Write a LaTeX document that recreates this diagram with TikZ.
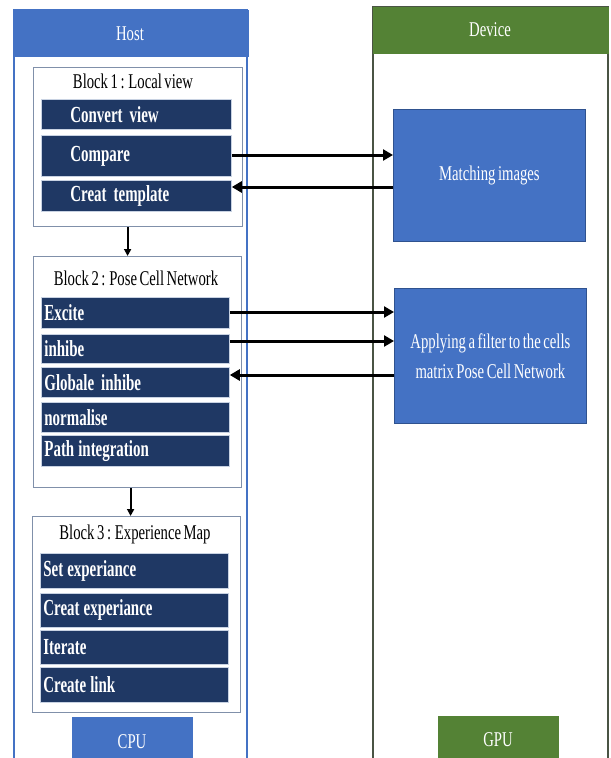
\documentclass[tikz,border=0pt]{standalone}
\usepackage{fontspec}
\usetikzlibrary{arrows.meta,calc}
\newfontfamily\nfont{Liberation Serif}[FakeStretch=0.7,WordSpace=0.7]
\newfontfamily\bfontfam{Liberation Serif}[FakeStretch=0.65]
\definecolor{hostblue}{HTML}{4472C4}
\definecolor{navy}{HTML}{1F3864}
\definecolor{devgreen}{HTML}{548235}
\definecolor{blkline}{HTML}{8090AA}
\definecolor{devline}{HTML}{4A5444}
\definecolor{barline}{HTML}{C8D2E2}
\definecolor{boxline}{HTML}{2F528F}
\newcommand{\dsp}{\hspace{7bp}}
\newcommand{\bsp}{\hspace{4bp}}
\tikzset{
  x=1bp, y=-1bp,
  ntext/.style={font=\nfont\fontsize{21bp}{30bp}\selectfont, inner sep=0pt},
  wtext/.style={ntext, text=white},
  bar/.style={fill=navy, draw=barline, line width=0.8bp, anchor=north west,
    inner xsep=3bp, inner ysep=0pt, text=white, align=left,
    font=\bfontfam\bfseries\fontsize{23bp}{28bp}\selectfont},
  blockbox/.style={draw=blkline, line width=1.2bp, fill=white, anchor=north west, inner sep=0pt},
  devbox/.style={fill=hostblue, draw=boxline, line width=0.8bp, anchor=north west, inner sep=0pt},
  harr/.style={line width=3bp, -{Triangle[length=10bp,width=11bp]}},
  varr/.style={line width=1.8bp, -{Triangle[length=7bp,width=7bp]}},
}
\begin{document}
\begin{tikzpicture}
\useasboundingbox[fill=white] (0,0) rectangle (611,758);
% Host column
\path[draw=hostblue, line width=1.5bp] (14,10) rectangle (247,764);
\node[fill=hostblue, draw=hostblue, line width=1.5bp, anchor=north west, minimum width=233bp, minimum height=45bp, inner sep=0pt] (hosthdr) at (14,10) {};
\node[wtext] (hosttxt) at (130,34) {Host};
% Device column
\path[draw=devline, line width=1.5bp] (373,7) rectangle (608,764);
\node[fill=devgreen, draw=devgreen, line width=1.2bp, anchor=north west, minimum width=235bp, minimum height=46bp, inner sep=0pt] (devhdr) at (373,7) {};
\node[wtext] (devtxt) at (490,30) {Device};

% Block 1
\node[blockbox, minimum width=209bp, minimum height=159bp] (b1) at (33,67) {};
\node[ntext] (b1t) at (133,81) {Block 1 : Local view};
\node[bar, minimum width=190bp, minimum height=30bp, text width=184bp] (cv) at (41,99) {\hspace*{26bp}Convert\dsp view};
\node[bar, minimum width=190bp, minimum height=41bp, text width=184bp] (cmp) at (41,135) {\hspace*{26bp}Compare\\[8bp]};
\node[bar, minimum width=190bp, minimum height=31bp, text width=184bp] (tmpl) at (41,180) {\hspace*{26bp}Creat\dsp template};

% Block 2
\node[blockbox, minimum width=208bp, minimum height=231bp] (b2) at (33,256) {};
\node[ntext] (b2t) at (136,278) {Block 2 : Pose Cell Network};
\node[bar, minimum width=188bp, minimum height=31bp, text width=182bp] (exc) at (41,297) {Excite};
\node[bar, minimum width=188bp, minimum height=29bp, text width=182bp] (inh) at (41,334) {inhibe};
\node[bar, minimum width=188bp, minimum height=30bp, text width=182bp] (ginh) at (41,367) {Globale\dsp inhibe};
\node[bar, minimum width=188bp, minimum height=30bp, text width=182bp] (norm) at (41,402) {normalise};
\node[bar, minimum width=188bp, minimum height=31bp, text width=182bp] (path) at (41,435) {Path\bsp integration};

% Block 3
\node[blockbox, minimum width=208bp, minimum height=196bp] (b3) at (32,516) {};
\node[ntext] (b3t) at (135,534) {Block 3 : Experience Map};
\node[bar, minimum width=188bp, minimum height=35bp, text width=182bp] (sete) at (40,553) {Set\bsp experiance};
\node[bar, minimum width=188bp, minimum height=34bp, text width=182bp] (cre) at (40,593) {Creat\bsp experiance};
\node[bar, minimum width=188bp, minimum height=34bp, text width=182bp] (iter) at (40,630) {Iterate};
\node[bar, minimum width=188bp, minimum height=35bp, text width=182bp] (link) at (40,667) {Create\bsp link};

% CPU / GPU
\node[fill=hostblue, anchor=north west, minimum width=121bp, minimum height=48bp, inner sep=0pt] (cpu) at (72,717) {};
\node[wtext] (cputxt) at (132,742) {CPU};
\node[fill=devgreen, anchor=north west, minimum width=121bp, minimum height=48bp, inner sep=0pt] (gpu) at (438,716) {};
\node[wtext] (gputxt) at (498,740) {GPU};

% Device boxes
\node[devbox, minimum width=192bp, minimum height=132bp] (match) at (393,109) {};
\node[wtext] (matcht) at (match.center) {Matching images};
\node[devbox, minimum width=192bp, minimum height=135bp] (apply) at (394,288) {};
\node[wtext, align=center] (applyt) at (apply.center) {Applying a filter to the cells\\matrix Pose Cell Network};

% Vertical arrows
\draw[varr] ([xshift=-10.5bp]b1.south) -- ([xshift=-10.5bp]b1.south |- b2.north);
\draw[varr] ([xshift=-7bp]b2.south) -- ([xshift=-7bp]b2.south |- b3.north);

% Horizontal arrows
\draw[harr] ($(cmp.north east)+(0,20)$) -- ($(cmp.north east -| match.west)+(0,20)$);
\draw[harr] ($(tmpl.north east -| match.west)+(0,7)$) -- ($(tmpl.north east)+(0,7)$);
\draw[harr] ($(exc.north east)+(0,15)$) -- ($(exc.north east -| apply.west)+(0,15)$);
\draw[harr] ($(inh.north east)+(0,7)$) -- ($(inh.north east -| apply.west)+(0,7)$);
\draw[harr] ($(ginh.north east -| apply.west)+(0,8)$) -- ($(ginh.north east)+(0,8)$);
\end{tikzpicture}
\end{document}
